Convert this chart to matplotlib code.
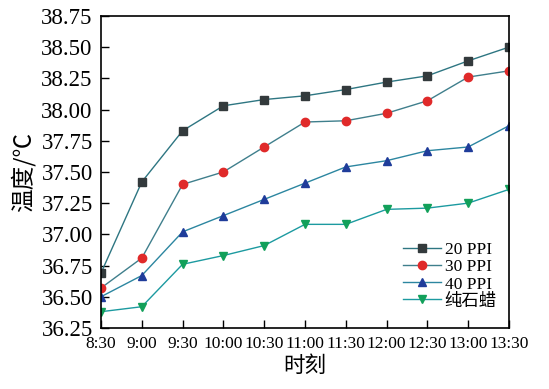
import matplotlib
matplotlib.use("Agg")
import matplotlib.pyplot as plt

plt.rcParams["font.family"] = ["Liberation Serif", "Noto Sans CJK SC", "DejaVu Sans"]

times = ["8:30", "9:00", "9:30", "10:00", "10:30", "11:00",
         "11:30", "12:00", "12:30", "13:00", "13:30"]

ppi20 = [36.69, 37.42, 37.83, 38.03, 38.08, 38.11, 38.16, 38.22, 38.27, 38.39, 38.50]
ppi30 = [36.57, 36.81, 37.40, 37.50, 37.70, 37.90, 37.91, 37.97, 38.07, 38.26, 38.31]
ppi40 = [36.50, 36.67, 37.02, 37.15, 37.28, 37.41, 37.54, 37.59, 37.67, 37.70, 37.87]
paraffin = [36.38, 36.42, 36.76, 36.83, 36.91, 37.08, 37.08, 37.20, 37.21, 37.25, 37.36]

yticks = [36.25, 36.50, 36.75, 37.00, 37.25, 37.50, 37.75, 38.00, 38.25, 38.50, 38.75]

series = [
    ("20 PPI", ppi20, "s", "#333a3c", "#2e7682"),
    ("30 PPI", ppi30, "o", "#e02a2a", "#3f7f8c"),
    ("40 PPI", ppi40, "^", "#1f3c9a", "#2c86a0"),
    ("纯石蜡", paraffin, "v", "#12a05a", "#1c9aa0"),
]

fig = plt.figure(figsize=(5.49, 3.89), dpi=100)
ax = fig.add_axes([0.184, 0.157, 0.743, 0.802])

x = list(range(len(times)))
for label, vals, marker, mcolor, lcolor in series:
    ax.plot(x, vals, color=lcolor, linewidth=1.0, marker=marker,
            markersize=6, markerfacecolor=mcolor, markeredgecolor=mcolor,
            label=label)

ax.set_xlim(0, len(times) - 1)
ax.set_ylim(36.25, 38.75)
ax.set_xticks(x)
ax.set_xticklabels(times)
ax.set_yticks(yticks)
ax.set_yticklabels([f"{v:.2f}" for v in yticks])
ax.tick_params(axis="both", direction="in", length=6, width=1, colors="black")
ax.tick_params(axis="y", labelsize=16.5, pad=6)
ax.tick_params(axis="x", labelsize=12.5, pad=6)
for side in ax.spines.values():
    side.set_linewidth(1.2)

ax.set_xlabel("时刻", fontsize=15.5, family=["Noto Sans CJK SC"], labelpad=2)
ax.set_ylabel("温度/℃", fontsize=17, family=["Noto Sans CJK SC"], labelpad=4)

ax.legend(loc="lower right", bbox_to_anchor=(1.0, 0.02), frameon=False,
          fontsize=12.5, handlelength=2.2, handletextpad=0.2, labelspacing=0.05,
          borderpad=0.2)

fig.savefig("out.png", dpi=100)
